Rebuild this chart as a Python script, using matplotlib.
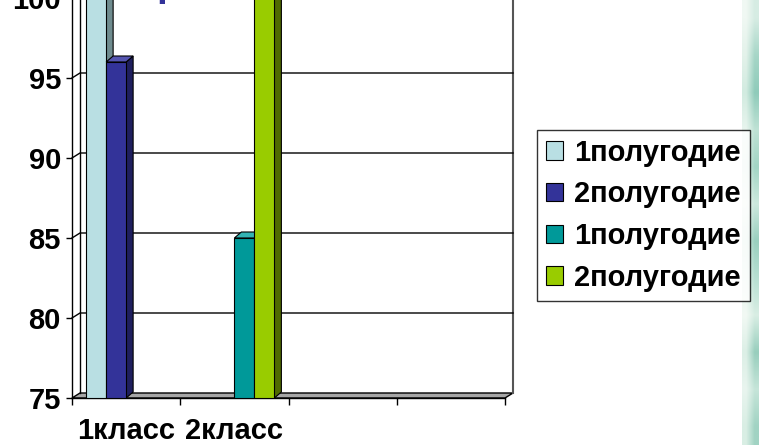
import numpy as np
import matplotlib
matplotlib.use('Agg')
import matplotlib.pyplot as plt
from matplotlib.patches import Polygon, Patch
from matplotlib.colors import to_rgb

# --- данные диаграммы ---
categories = ['1класс', '2класс', '', '']
series_names = ['1полугодие', '2полугодие', '1полугодие', '2полугодие']
s1 = [100, None, None, None]
s2 = [96, None, None, None]
s3 = [None, 85, None, None]
s4 = [None, 100, None, None]
series = [s1, s2, s3, s4]
yticks = [75, 80, 85, 90, 95, 100]

colors = ['#b9dfe3', '#333399', '#009999', '#99cc00']
side_colors = ['#6f8c8f', '#1f1f5e', '#005c5c', '#4f6a00']
top_colors = ['#d5ecee', '#5555b0', '#33b3b3', '#b3dd33']

# фон слайда справа (декоративная полоса)
stripe_left = ['#f0f8f3', '#e3f2ea', '#d2ebe0', '#e8f5ee', '#dff0e8', '#eef7f1',
               '#d6ede3', '#e6f4ec', '#f2f9f4', '#dcefe6', '#e9f5ef', '#d9eee4']
stripe_right = ['#d6ece3', '#a6d6c7', '#8fcbba', '#bfe2d5', '#a3d5c5', '#cde9de',
                '#9acfbf', '#b8dfd2', '#d9eee4', '#98cebd', '#c6e5d9', '#a1d3c3']

plt.rcParams['font.family'] = ['Liberation Sans', 'DejaVu Sans']
plt.rcParams['font.weight'] = 'bold'
plt.rcParams['font.size'] = 21

W, H = 759, 445
fig = plt.figure(figsize=(W / 100, H / 100), dpi=100)
ax = fig.add_axes([72 / W, 47 / H, 433 / W, 400 / H])
ax.set_xlim(0, len(categories))
ax.set_ylim(yticks[0], yticks[-1])

# пиксели -> единицы данных
ppx = ax.bbox.width / len(categories)
ppy = ax.bbox.height / (yticks[-1] - yticks[0])
wdx, wdy = 8 / ppx, 5 / ppy      # сдвиг задней стенки
bdx, bdy = 7 / ppx, 6 / ppy      # глубина столбиков
ymin, ymax = yticks[0], yticks[-1]
ncat = len(categories)

# пол
floor = Polygon([(0, ymin), (ncat, ymin), (ncat + wdx, ymin + wdy), (wdx, ymin + wdy)],
                closed=True, facecolor='#a6a6a6', edgecolor='black', lw=1,
                zorder=1, clip_on=False)
ax.add_patch(floor)

# стенки и линии сетки
ax.plot([wdx, wdx], [ymin + wdy, ymax + 1], color='black', lw=1, zorder=1, clip_on=False)
ax.plot([ncat + wdx, ncat + wdx], [ymin + wdy, ymax + 1], color='#555555', lw=1.5,
        zorder=1, clip_on=False)
for v in yticks[1:]:
    ax.plot([0, wdx, ncat + wdx], [v, v + wdy, v + wdy], color='black', lw=1,
            zorder=1, clip_on=False)

# столбики
w = 20 / ppx
gap = (1 - len(series) * w) / 2
z = 3
for k in range(ncat):
    for i, vals in enumerate(series):
        v = vals[k]
        if v is None:
            continue
        x0 = k + gap + i * w
        side = Polygon([(x0 + w, ymin), (x0 + w, v), (x0 + w + bdx, v + bdy),
                        (x0 + w + bdx, ymin + bdy)], closed=True,
                       facecolor=side_colors[i], edgecolor='black', lw=0.8, zorder=z)
        top = Polygon([(x0, v), (x0 + w, v), (x0 + w + bdx, v + bdy), (x0 + bdx, v + bdy)],
                      closed=True, facecolor=top_colors[i], edgecolor='black', lw=0.8, zorder=z)
        ax.add_patch(side)
        ax.add_patch(top)
        ax.bar(x0, v - ymin, bottom=ymin, width=w, align='edge', color=colors[i],
               edgecolor='black', lw=0.8, zorder=z)
        z += 1

for s in ['top', 'right']:
    ax.spines[s].set_visible(False)
ax.spines['left'].set_linewidth(1)
ax.spines['bottom'].set_linewidth(1)
ax.spines['left'].set_zorder(2)

ax.set_xticks(range(ncat + 1))
ax.set_xticklabels([])
ax.set_xticks(np.arange(ncat) + 0.5, minor=True)
ax.set_xticklabels(categories, minor=True)
ax.tick_params(axis='x', which='major', length=5, width=1, direction='out')
ax.tick_params(axis='x', which='minor', length=0, pad=14)
ax.set_yticks(yticks)
ax.tick_params(axis='y', length=4, width=1, pad=4)

# легенда
handles = [Patch(facecolor=c, edgecolor='black', lw=0.8) for c in colors]
leg = fig.legend(handles, series_names, loc='upper left',
                 bbox_to_anchor=(537 / W, 1 - 130 / H), frameon=True, fancybox=False,
                 edgecolor='black', handlelength=0.6, handleheight=0.6,
                 handletextpad=0.38, labelspacing=0.47, borderpad=0.3, borderaxespad=0)
leg.get_frame().set_linewidth(1)

# остаток заголовка (обрезан сверху)
fig.text(156 / W, 449 / H, 'р', color='#333399', fontsize=28, va='baseline', ha='left')

# декоративная полоса справа
sax = fig.add_axes([742 / W, 0, 17 / W, 1])
img = np.array([[to_rgb(a), to_rgb(b)] for a, b in zip(stripe_left, stripe_right)])
sax.imshow(img, aspect='auto', interpolation='bilinear')
sax.axis('off')

fig.savefig('out.png', dpi=100)
